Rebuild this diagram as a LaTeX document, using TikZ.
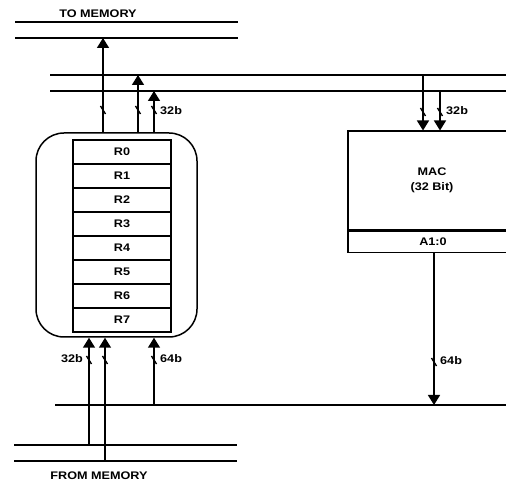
\documentclass[tikz,border=0pt]{standalone}
\usepackage{fontspec}
\setmainfont[FakeStretch=1.15]{Liberation Sans}
\usetikzlibrary{arrows.meta}
\begin{document}
\begin{tikzpicture}[x=1pt,y=1pt,
  wire/.style={line width=1.5pt},
  arr/.style={line width=1.5pt,-{Triangle[length=10pt,width=12pt]}},
  lbl/.style={font=\bfseries\fontsize{11}{13}\selectfont,inner sep=0pt},
  reg/.style={draw,line width=1.4pt,minimum width=98pt,minimum height=24pt,inner sep=0pt,font=\bfseries\fontsize{11}{13}\selectfont},
  slashmark/.pic={\draw[line width=1.4pt] (-2.5,4) -- (2.5,-4);}
]
\useasboundingbox (0,0) rectangle (506,482);

% memory buses
\coordinate (tmL1) at (15,460); \coordinate (tmR1) at (238,460);
\coordinate (tmL2) at (15,444); \coordinate (tmR2) at (238,444);
\draw[wire] (tmL1) -- (tmR1);
\draw[wire] (tmL2) -- (tmR2);
\node[lbl] (tomem) at (98,468) {TO MEMORY};

\coordinate (bmL1) at (14,37); \coordinate (bmR1) at (237,37);
\coordinate (bmL2) at (14,21); \coordinate (bmR2) at (237,21);
\draw[wire] (bmL1) -- (bmR1);
\draw[wire] (bmL2) -- (bmR2);
\node[lbl] (frommem) at (99,6) {FROM MEMORY};

% upper internal bus
\coordinate (ubL1) at (50,407); \coordinate (ubR1) at (510,407);
\coordinate (ubL2) at (50,391); \coordinate (ubR2) at (510,391);
\draw[wire] (ubL1) -- (ubR1);
\draw[wire] (ubL2) -- (ubR2);

% lower internal bus
\coordinate (lbL) at (55,77); \coordinate (lbR) at (510,77);
\draw[wire] (lbL) -- (lbR);

% register file
\node[draw,line width=1.5pt,rounded corners=28pt,minimum width=161pt,minimum height=204pt,inner sep=0pt] (regfile) at (116.5,247) {};
\foreach \i in {0,...,7}{
  \node[reg] (r\i) at (122,330-24*\i) {R\i};
}

% MAC
\node[draw,line width=1.5pt,anchor=south west,minimum width=163pt,minimum height=99pt,inner sep=0pt] (mac) at (347,251) {};
\node[draw,line width=1.5pt,anchor=north west,minimum width=163pt,minimum height=21pt,inner sep=0pt] (acc) at (347,251) {};
\node[lbl,align=center] (mactext) at (432,302) {MAC\\[2pt](32 Bit)};
\node[lbl] (acctext) at (433,240.5) {A1:0};

% arrows from register file up
\coordinate (t1) at (103,444);
\coordinate (t2) at (138,407);
\coordinate (t3) at (154,391);
\draw[arr] (regfile.north -| t1) -- (t1);
\draw[arr] (regfile.north -| t2) -- (t2);
\draw[arr] (regfile.north -| t3) -- (t3);
\pic at (103,372) {slashmark};
\pic at (138,372) {slashmark};
\pic at (154,372) {slashmark};
\node[lbl,anchor=west] (l32a) at (160,371) {32b};

% arrows into MAC
\coordinate (m1) at (423,407);
\coordinate (m2) at (440,391);
\draw[arr] (m1) -- (mac.north -| m1);
\draw[arr] (m2) -- (mac.north -| m2);
\pic at (423,370) {slashmark};
\pic at (440,370) {slashmark};
\node[lbl,anchor=west] (l32b) at (446,371) {32b};

% accumulator down to lower bus
\coordinate (a1) at (434,77);
\draw[arr] (acc.south -| a1) -- (a1);
\pic at (434,120) {slashmark};
\node[lbl,anchor=west] (l64a) at (440,121) {64b};

% arrows into register file from below
\coordinate (b1) at (89,37);
\coordinate (b2) at (105,21);
\coordinate (b3) at (154,77);
\draw[arr] (b1) -- (regfile.south -| b1);
\draw[arr] (b2) -- (regfile.south -| b2);
\draw[arr] (b3) -- (regfile.south -| b3);
\pic at (89,122) {slashmark};
\pic at (105,122) {slashmark};
\pic at (154,122) {slashmark};
\node[lbl,anchor=east] (l32c) at (83,123) {32b};
\node[lbl,anchor=west] (l64b) at (160,123) {64b};
\end{tikzpicture}
\end{document}
